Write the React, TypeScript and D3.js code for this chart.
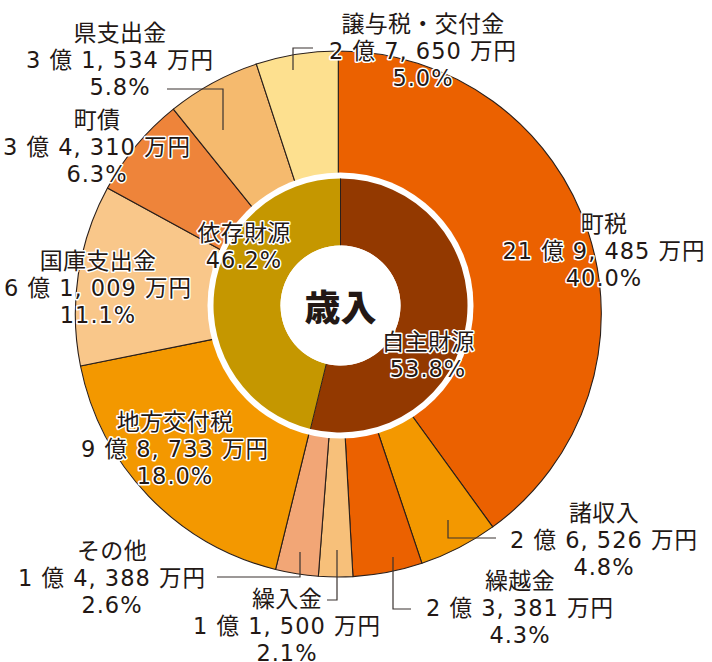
import React from 'react';
import * as d3 from 'd3';

// ---- data ----
const categories = ['町税', '諸収入', '繰越金', '繰入金', 'その他', '地方交付税', '国庫支出金', '町債', '県支出金', '譲与税・交付金'];
const amounts = [219485, 26526, 23381, 11500, 14388, 98733, 61009, 34310, 31534, 27650]; // 万円
const percents = [40.0, 4.8, 4.3, 2.1, 2.6, 18.0, 11.1, 6.3, 5.8, 5.0];
const sliceColors = ['#EB6100', '#F39800', '#EB6100', '#F7C07A', '#F2A676', '#F39800', '#F9C78A', '#EE843A', '#F5BA6E', '#FDE08F'];

const groupNames = ['自主財源', '依存財源'];
const groupPercents = [53.8, 46.2];
const groupColors = ['#933900', '#C59700'];
const centerTitle = '歳入';

// ---- layout ----
const W = 712, H = 662;
const OC = { x: 338.3, y: 314 };
const OR = 263;
const IC = { x: 340.5, y: 305.5 };
const RING_OUT = 127, RING_IN = 60, RING_HALO = 133;
const LINE_GAP = 26.8;
const TEXT = '#231815';
const FONT = '"Noto Sans CJK JP", "Noto Sans", sans-serif';
const NUM_FONT = '"DejaVu Sans", "Noto Sans CJK JP", sans-serif';

type Layout = { x: number; y: number; leader?: [number, number][] };
const labelLayout: Record<string, Layout> = {
  '町税': { x: 604, y: 232 },
  '諸収入': { x: 604, y: 521, leader: [[448, 520], [448, 538], [496, 538]] },
  '繰越金': { x: 520, y: 589, leader: [[393, 557], [393, 609], [411, 609]] },
  '繰入金': { x: 287, y: 607, leader: [[327, 600], [337, 600], [337, 550]] },
  'その他': { x: 112, y: 559, leader: [[217, 577], [300, 577], [300, 552]] },
  '地方交付税': { x: 175, y: 430 },
  '国庫支出金': { x: 98, y: 269 },
  '町債': { x: 97, y: 128 },
  '県支出金': { x: 120, y: 41, leader: [[167, 89], [223, 89], [223, 130]] },
  '譲与税・交付金': { x: 423, y: 32, leader: [[313, 48], [293, 48], [293, 70]] },
};
const groupLayout: Record<string, Layout> = {
  '自主財源': { x: 428, y: 350 },
  '依存財源': { x: 244, y: 241 },
};

function fmtAmount(v: number): string {
  const oku = Math.floor(v / 10000);
  const rem = v % 10000;
  const th = Math.floor(rem / 1000);
  const rest = String(rem % 1000).padStart(3, '0');
  return `${oku} 億 ${th}, ${rest} 万円`;
}

const Label: React.FC<{ x: number; y: number; lines: string[] }> = ({ x, y, lines }) => (
  <g>
    {lines.map((t, i) => {
      const isName = i === 0;
      return (
        <text
          key={i}
          x={x}
          y={y + i * LINE_GAP}
          textAnchor="middle"
          fontFamily={isName ? FONT : NUM_FONT}
          fontSize={isName ? 23 : 22.5}
          letterSpacing={isName ? 0.3 : 1}
          fill={TEXT}
          stroke="#fff"
          strokeWidth={3}
          strokeLinejoin="round"
          paintOrder="stroke"
        >
          {t}
        </text>
      );
    })}
  </g>
);

export default function App() {
  const pie = d3.pie<number>().sort(null).value((d) => d);
  const outerArcs = pie(amounts);
  const arcGen = d3.arc<d3.PieArcDatum<number>>().innerRadius(0).outerRadius(OR);

  const innerArcs = pie(groupPercents);
  const ringGen = d3.arc<d3.PieArcDatum<number>>().innerRadius(RING_IN).outerRadius(RING_OUT);

  const line = d3.line();

  return (
    <svg width={W} height={H} style={{ position: 'absolute', left: 0, top: 0, display: 'block', background: '#fff' }}>
      <g transform={`translate(${OC.x},${OC.y})`}>
        {outerArcs.map((a, i) => (
          <path key={i} d={arcGen(a) || ''} fill={sliceColors[i]} stroke="#2a1f1a" strokeWidth={1.1} strokeLinejoin="round" />
        ))}
      </g>
      <g transform={`translate(${IC.x},${IC.y})`}>
        <circle r={RING_HALO} fill="#fff" />
        {innerArcs.map((a, i) => (
          <path key={i} d={ringGen(a) || ''} fill={groupColors[i]} />
        ))}
        {innerArcs.map((a, i) => {
          const ang = a.startAngle;
          const s = Math.sin(ang), c = -Math.cos(ang);
          return (
            <line key={i} x1={RING_IN * s} y1={RING_IN * c} x2={RING_OUT * s} y2={RING_OUT * c} stroke="#2a1f1a" strokeWidth={1} />
          );
        })}
        <circle r={RING_IN} fill="#fff" />
        <text x={0} y={15} textAnchor="middle" fontFamily={FONT} fontWeight={900} fontSize={36} fill={TEXT}>
          {centerTitle}
        </text>
      </g>
      {categories.map((c, i) => {
        const L = labelLayout[c];
        return L.leader ? (
          <path key={'l' + i} d={line(L.leader) || ''} fill="none" stroke="#3a3330" strokeWidth={1.2} />
        ) : null;
      })}
      {categories.map((c, i) => {
        const L = labelLayout[c];
        return <Label key={c} x={L.x} y={L.y} lines={[c, fmtAmount(amounts[i]), `${percents[i].toFixed(1)}%`]} />;
      })}
      {groupNames.map((g, i) => {
        const L = groupLayout[g];
        return <Label key={g} x={L.x} y={L.y} lines={[g, `${groupPercents[i].toFixed(1)}%`]} />;
      })}
    </svg>
  );
}
